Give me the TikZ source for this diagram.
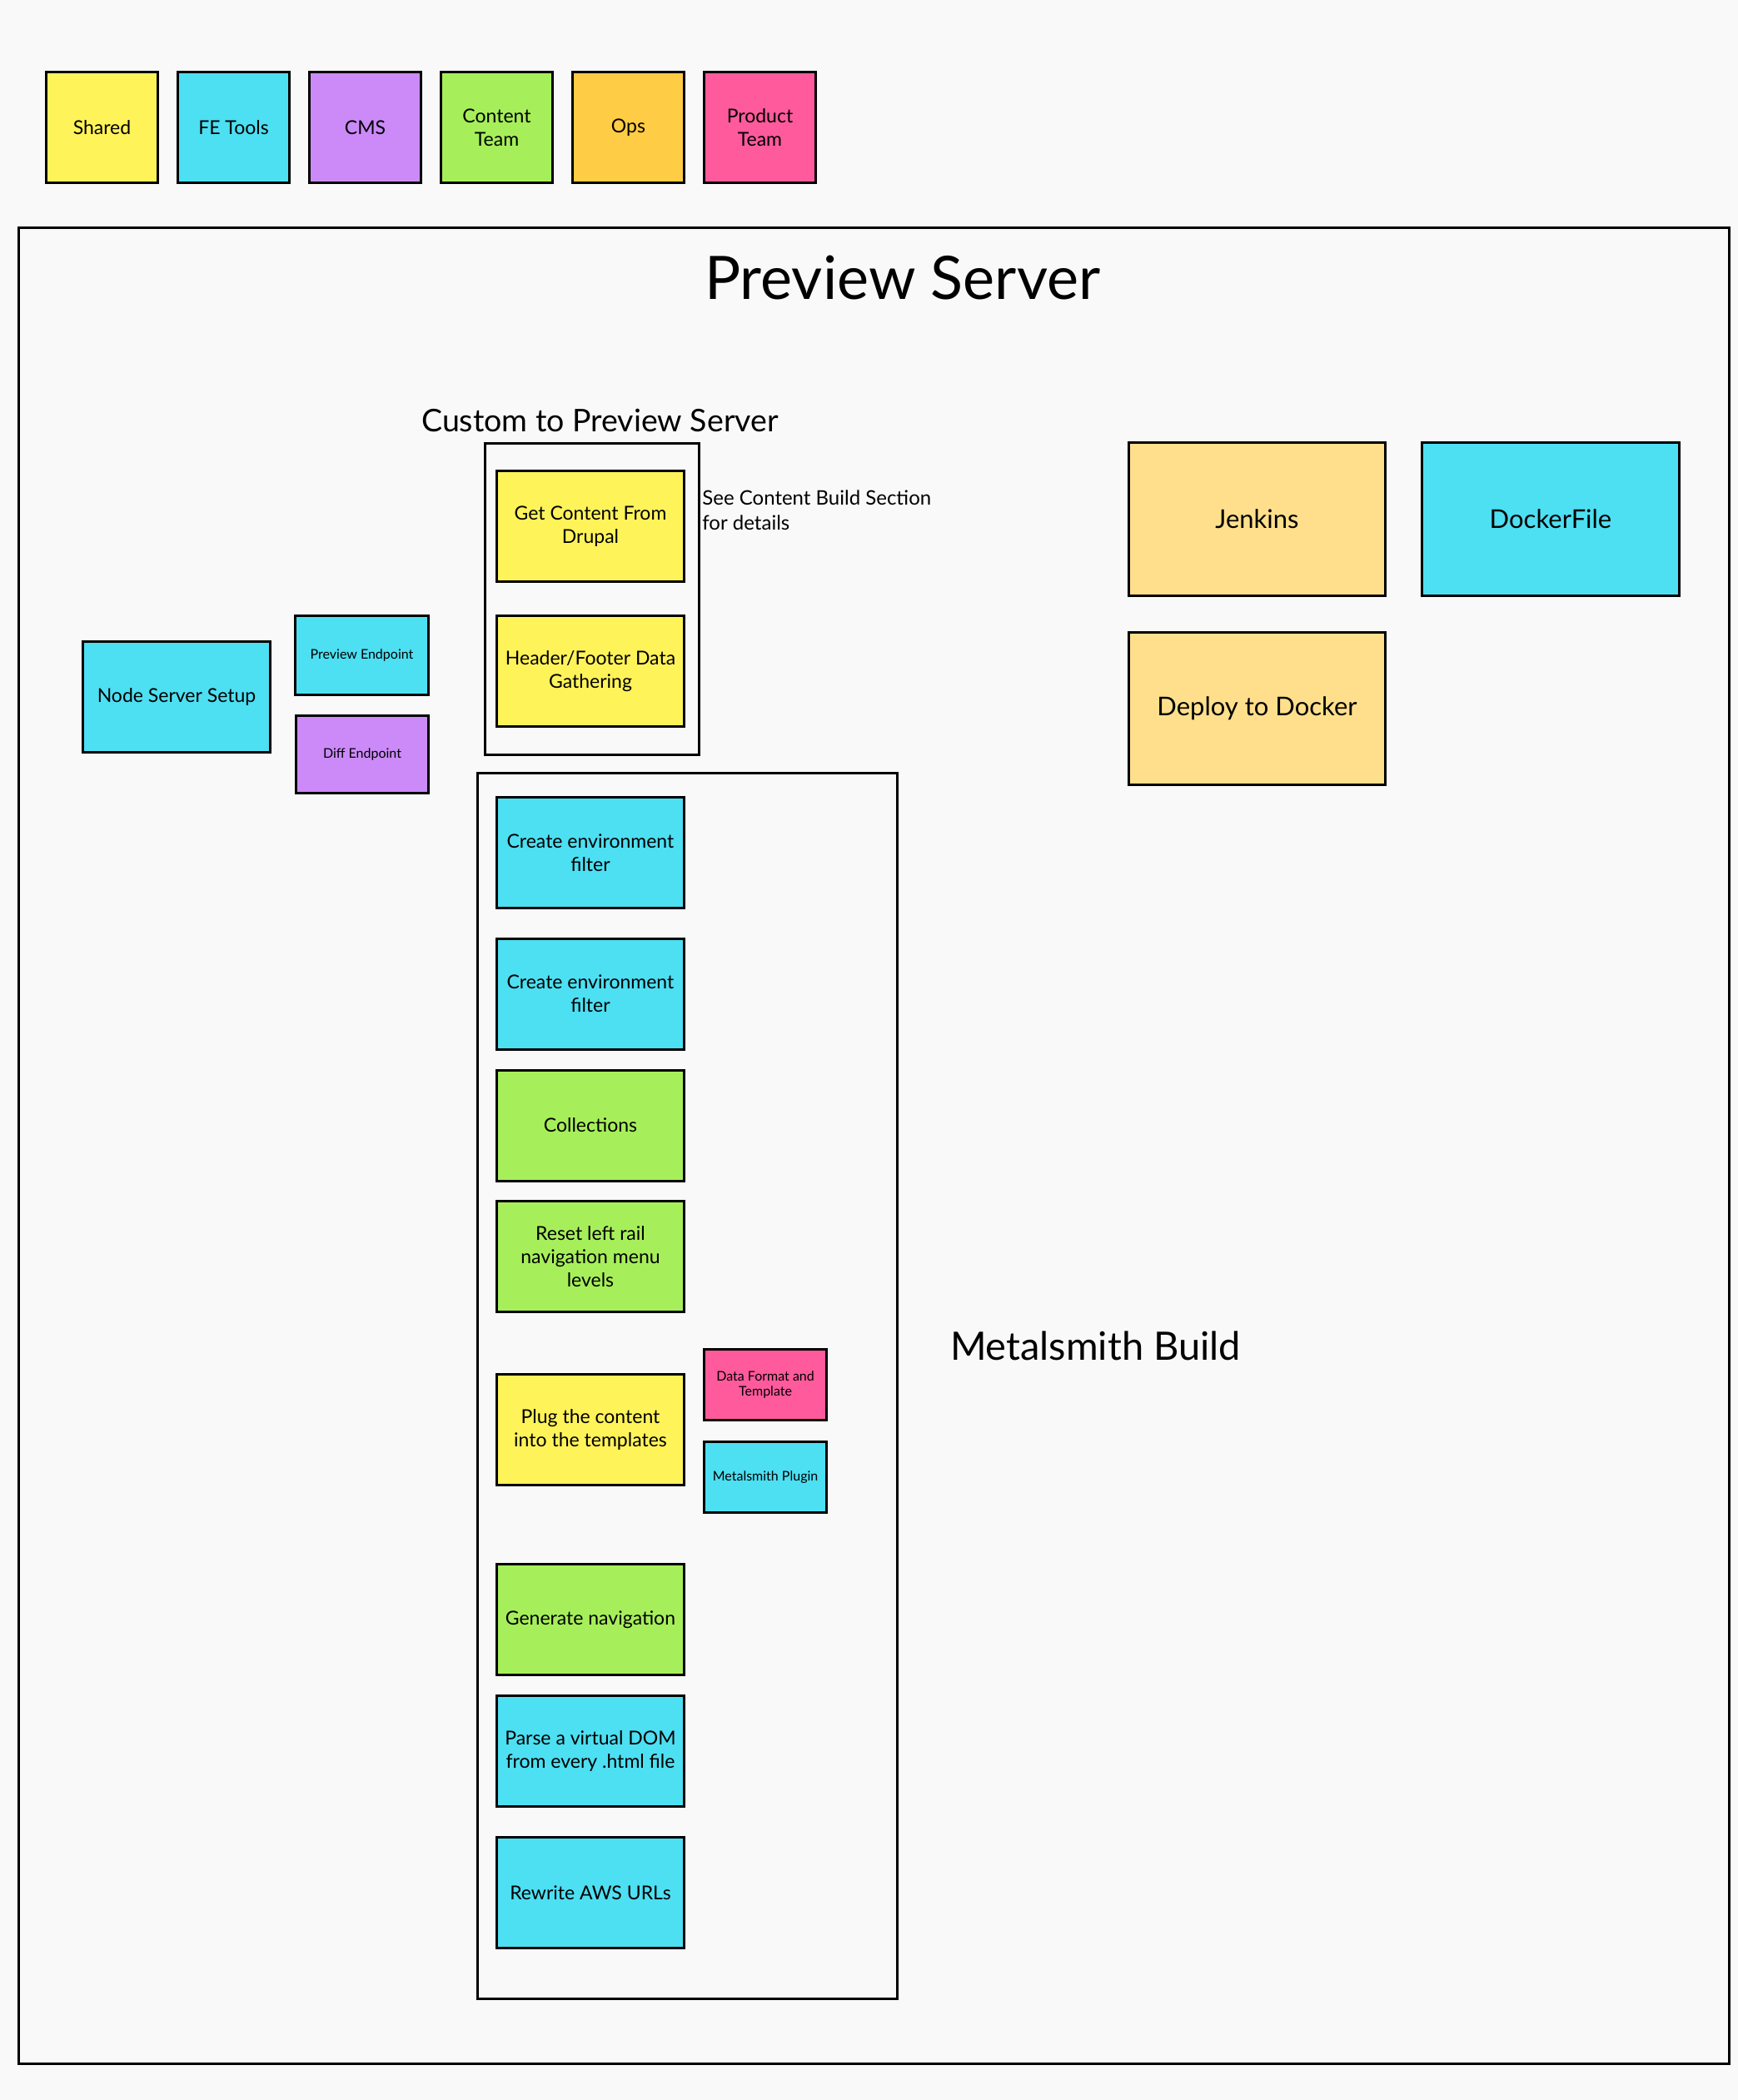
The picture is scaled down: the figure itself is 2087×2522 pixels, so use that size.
\documentclass[tikz,border=0pt]{standalone}
\usepackage{fontspec}
\setmainfont{Lato}
\definecolor{cBg}{HTML}{F9F9F9}
\definecolor{cYellow}{HTML}{FFF35A}
\definecolor{cCyan}{HTML}{4DDFF2}
\definecolor{cPurple}{HTML}{CB8AF8}
\definecolor{cGreen}{HTML}{A6EF5A}
\definecolor{cOps}{HTML}{FFCC45}
\definecolor{cPink}{HTML}{FF5A9C}
\definecolor{cJenk}{HTML}{FFDF8C}
\tikzset{
  sticky/.style={draw=black, line width=3pt, inner sep=0pt, outer sep=0pt, anchor=north west, align=center, font=\fontsize{23}{28}\selectfont},
  small/.style={font=\fontsize{16}{18.5}\selectfont},
  big/.style={font=\fontsize{31}{36}\selectfont},
  std/.style={minimum width=225pt, minimum height=133pt},
  legend/.style={minimum width=134pt, minimum height=133pt},
  group/.style={draw=black, line width=3pt, inner sep=0pt, anchor=north west},
  label/.style={inner sep=0pt, outer sep=0pt},
}
\begin{document}
\begin{tikzpicture}[x=1pt, y=-1pt]
\useasboundingbox (0,0) rectangle (2087,2522);
\fill[cBg] (0,0) rectangle (2087,2522);

% legend
\node[sticky, legend, fill=cYellow] (lshared) at (55.5,86.5) {Shared};
\node[sticky, legend, fill=cCyan] (lfe) at (213.5,86.5) {FE Tools};
\node[sticky, legend, fill=cPurple] (lcms) at (371.5,86.5) {CMS};
\node[sticky, legend, fill=cGreen] (lcontent) at (529.5,86.5) {Content\\Team};
\node[sticky, legend, fill=cOps] (lops) at (687.5,86.5) {Ops};
\node[sticky, legend, fill=cPink] (lproduct) at (845.5,86.5) {Product\\Team};

% outer frame
\node[group, minimum width=2054.5pt, minimum height=2205.5pt] (frame) at (20.5,271.5) {};
\node[label, anchor=base, font=\fontsize{72}{76}\selectfont] (title) at (1083.8,359) {Preview Server};

% custom to preview server
\node[label, anchor=base, font=\fontsize{37.5}{42}\selectfont] (customtitle) at (720.5,518.4) {Custom to Preview Server};
\node[group, minimum width=257pt, minimum height=374pt] (custom) at (580.5,530.5) {};
\node[sticky, std, fill=cYellow] (getcontent) at (596.5,565.5) {Get Content From\\Drupal};
\node[sticky, std, fill=cYellow] (header) at (596.5,739.5) {Header/Footer Data\\Gathering};
\node[label, anchor=west, align=left, font=\fontsize{24}{29.5}\selectfont] (seecontent) at (843.4,612.7) {See Content Build Section\\for details};

% node server
\node[sticky, std, fill=cCyan] (nodeserver) at (99.5,770.5) {Node Server Setup};
\node[sticky, small, fill=cCyan, minimum width=160pt, minimum height=95pt] (preview) at (354.5,739.5) {Preview Endpoint};
\node[sticky, small, fill=cPurple, minimum width=159pt, minimum height=93pt] (diff) at (355.5,859.5) {Diff Endpoint};

% ops
\node[sticky, big, fill=cJenk, minimum width=308pt, minimum height=183.5pt] (jenkins) at (1355.5,531.5) {Jenkins};
\node[sticky, big, fill=cCyan, minimum width=309pt, minimum height=183.5pt] (dockerfile) at (1707.5,531.5) {DockerFile};
\node[sticky, big, fill=cJenk, minimum width=308pt, minimum height=183pt] (deploy) at (1355.5,759.2) {Deploy to Docker};

% metalsmith build
\node[group, minimum width=504pt, minimum height=1472pt] (metal) at (571.5,926.5) {};
\node[label, anchor=base west, font=\fontsize{47}{52}\selectfont] (metaltitle) at (1141,1633.3) {Metalsmith Build};
\node[sticky, std, fill=cCyan] (env1) at (596.5,957.5) {Create environment\\filter};
\node[sticky, std, fill=cCyan] (env2) at (596.5,1127) {Create environment\\filter};
\node[sticky, std, fill=cGreen] (collections) at (596.5,1285) {Collections};
\node[sticky, std, fill=cGreen] (reset) at (596.5,1442.7) {Reset left rail\\navigation menu\\levels};
\node[sticky, std, fill=cYellow] (plug) at (596.5,1650.7) {Plug the content\\into the templates};
\node[sticky, small, fill=cPink, minimum width=146.5pt, minimum height=85.5pt] (dataformat) at (845.8,1620.2) {Data Format and\\Template};
\node[sticky, small, fill=cCyan, minimum width=146.5pt, minimum height=85pt] (plugin) at (845.8,1731.1) {Metalsmith Plugin};
\node[sticky, std, fill=cGreen] (gennav) at (596.5,1878.4) {Generate navigation};
\node[sticky, std, fill=cCyan] (parse) at (596.5,2036.6) {Parse a virtual DOM\\from every .html file};
\node[sticky, std, fill=cCyan] (rewrite) at (596.5,2206.7) {Rewrite AWS URLs};
\end{tikzpicture}
\end{document}
